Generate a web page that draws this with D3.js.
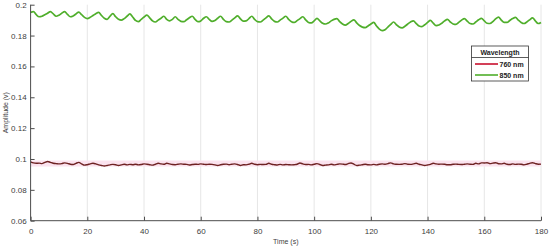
<!DOCTYPE html>
<html><head><meta charset="utf-8">
<script src="https://cdn.jsdelivr.net/npm/d3@7"></script>
<style>
html,body{margin:0;padding:0;background:#fff;}
svg{display:block;font-family:"Liberation Sans",Arial,sans-serif;}
</style></head>
<body><svg id="chart" width="550" height="248"></svg>
<script>
// ---- data (1 s sampling, 0..180 s) ----
const xTicks = [0,20,40,60,80,100,120,140,160,180];
const yTicks = [0.06,0.08,0.1,0.12,0.14,0.16,0.18,0.2];
const yTickLabels = ["0.06","0.08","0.1","0.12","0.14","0.16","0.18","0.2"];
const seriesNames = ["760 nm","850 nm"];
const legendTitle = "Wavelength";
const band760 = [0.0951, 0.0990];

const amp760 = [
0.0982,0.0975,0.0972,0.0973,0.0970,0.0978,0.0984,0.0978,0.0972,0.0970,0.0968,0.0970,0.0975,0.0972,0.0966,0.0964,0.0972,0.0978,0.0968,0.0960,0.0963,0.0968,0.0972,0.0968,0.0962,0.0958,0.0955,0.0958,0.0962,0.0965,0.0963,
0.0958,0.0962,0.0966,0.0962,0.0965,0.0963,0.0966,0.0962,0.0964,0.0968,0.0966,0.0963,0.0960,0.0966,0.0972,0.0968,0.0966,0.0972,0.0968,0.0964,0.0963,0.0966,0.0968,0.0966,0.0965,0.0961,0.0964,0.0966,0.0965,0.0968,
0.0966,0.0964,0.0966,0.0965,0.0962,0.0958,0.0963,0.0966,0.0967,0.0963,0.0966,0.0968,0.0964,0.0958,0.0963,0.0962,0.0966,0.0972,0.0966,0.0963,0.0965,0.0964,0.0965,0.0972,0.0966,0.0963,0.0961,0.0965,0.0962,0.0964,
0.0963,0.0962,0.0963,0.0966,0.0974,0.0968,0.0964,0.0965,0.0962,0.0966,0.0970,0.0964,0.0958,0.0960,0.0962,0.0966,0.0962,0.0965,0.0968,0.0967,0.0964,0.0970,0.0974,0.0966,0.0958,0.0960,0.0963,0.0966,0.0963,0.0962,
0.0965,0.0962,0.0966,0.0968,0.0966,0.0970,0.0975,0.0968,0.0966,0.0965,0.0966,0.0970,0.0966,0.0965,0.0968,0.0972,0.0966,0.0962,0.0958,0.0961,0.0965,0.0972,0.0968,0.0966,0.0967,0.0966,0.0963,0.0963,0.0966,0.0967,
0.0965,0.0964,0.0966,0.0968,0.0966,0.0965,0.0972,0.0968,0.0975,0.0974,0.0976,0.0970,0.0973,0.0976,0.0969,0.0968,0.0972,0.0966,0.0964,0.0968,0.0965,0.0967,0.0966,0.0962,0.0966,0.0972,0.0976,0.0970,0.0966,0.0967
];

const amp850 = [
0.1950,0.1955,0.1935,0.1922,0.1925,0.1935,0.1945,0.1955,0.1940,0.1925,0.1932,0.1945,0.1955,0.1937,0.1922,0.1927,0.1940,0.1952,0.1935,0.1918,
0.1910,0.1918,0.1930,0.1942,0.1950,0.1930,0.1912,0.1905,0.1925,0.1942,0.1922,0.1905,0.1900,0.1910,0.1925,0.1940,0.1920,0.1898,0.1890,0.1905,
0.1920,0.1932,0.1915,0.1895,0.1888,0.1900,0.1912,0.1925,0.1905,0.1895,0.1905,0.1922,0.1905,0.1892,0.1890,0.1902,0.1915,0.1925,0.1905,0.1890,
0.1895,0.1912,0.1922,0.1905,0.1892,0.1898,0.1912,0.1925,0.1905,0.1890,0.1888,0.1900,0.1915,0.1928,0.1908,0.1893,0.1895,0.1910,0.1925,0.1905,
0.1890,0.1888,0.1900,0.1915,0.1928,0.1908,0.1892,0.1888,0.1900,0.1913,0.1925,0.1905,0.1890,0.1885,0.1897,0.1910,0.1922,0.1902,0.1885,0.1882,
0.1895,0.1912,0.1895,0.1880,0.1875,0.1882,0.1895,0.1905,0.1910,0.1890,0.1875,0.1868,0.1878,0.1892,0.1902,0.1882,0.1865,0.1855,0.1852,0.1862,
0.1875,0.1885,0.1862,0.1842,0.1832,0.1838,0.1855,0.1872,0.1888,0.1870,0.1855,0.1850,0.1860,0.1875,0.1888,0.1895,0.1878,0.1862,0.1858,0.1870,
0.1885,0.1898,0.1880,0.1865,0.1868,0.1880,0.1895,0.1905,0.1888,0.1875,0.1872,0.1885,0.1900,0.1910,0.1893,0.1878,0.1875,0.1888,0.1902,0.1912,
0.1895,0.1880,0.1878,0.1890,0.1908,0.1920,0.1900,0.1885,0.1885,0.1898,0.1910,0.1918,0.1900,0.1885,0.1878,0.1888,0.1902,0.1915,0.1895,0.1878,
0.1885
];

// ---- layout ----
const svg = d3.select("#chart");
const x = d3.scaleLinear().domain([0,180]).range([30.6,541]);
const y = d3.scaleLinear().domain([0.06,0.2]).range([220.7,4.7]);
const axisColor = "#4d4d4d";
const textColor = "#404040";

// vertical grid
svg.append("g").selectAll("line").data(xTicks.slice(1)).join("line")
  .attr("x1",d=>x(d)).attr("x2",d=>x(d))
  .attr("y1",y(0.06)).attr("y2",y(0.2))
  .attr("stroke","#e6e6e6").attr("stroke-width",1);

// band for 760 nm
svg.append("rect")
  .attr("x",x(0)).attr("width",x(180)-x(0))
  .attr("y",y(band760[1])).attr("height",y(band760[0])-y(band760[1]))
  .attr("fill","#fbe3ef");

const line = d3.line().x((d,i)=>x(i)).y(d=>y(d)).curve(d3.curveMonotoneX);

svg.append("path").datum(amp760).attr("d",line)
  .attr("fill","none").attr("stroke","#6e2222").attr("stroke-width",1.4);
svg.append("path").datum(amp850).attr("d",line)
  .attr("fill","none").attr("stroke","#4fae2b").attr("stroke-width",1.7);

// axes
const xAxis = d3.axisBottom(x).tickValues(xTicks).tickSize(-4).tickPadding(8).tickFormat(d3.format("d"));
const gx = svg.append("g").attr("transform",`translate(0,${y(0.06)})`).call(xAxis);
const yAxis = d3.axisLeft(y).tickValues(yTicks).tickSize(-4).tickPadding(4).tickFormat((d,i)=>yTickLabels[i]);
const gy = svg.append("g").attr("transform",`translate(${x(0)},0)`).call(yAxis);
[gx,gy].forEach(g=>{
  g.select(".domain").attr("stroke",axisColor).attr("stroke-width",1);
  g.selectAll(".tick line").attr("stroke",axisColor);
  g.selectAll(".tick text").attr("fill",textColor).attr("font-size","8px")
    .attr("font-family","'Liberation Sans',Arial,sans-serif");
});
gy.selectAll(".tick text").attr("x",-4);
gx.select(".domain").attr("d",`M${x(0)},0H${x(180)}`);
gy.select(".domain").attr("d",`M0,${y(0.06)}V${y(0.2)}`);

// axis labels
svg.append("text").attr("x",(x(0)+x(180))/2).attr("y",244)
  .attr("text-anchor","middle").attr("font-size","7px").attr("fill",textColor).text("Time (s)");
svg.append("text").attr("transform",`translate(8,${(y(0.06)+y(0.2))/2}) rotate(-90)`)
  .attr("text-anchor","middle").attr("font-size","7px").attr("fill",textColor).text("Amplitude (v)");

// legend
const lg = svg.append("g");
const lx0 = 471.5, lx1 = 528.5, ly0 = 46, ly1 = 81;
lg.append("rect").attr("x",lx0).attr("y",ly0).attr("width",lx1-lx0).attr("height",ly1-ly0)
  .attr("fill","#fff").attr("stroke","#333").attr("stroke-width",0.8);
lg.append("line").attr("x1",lx0).attr("x2",lx1).attr("y1",57.5).attr("y2",57.5)
  .attr("stroke","#333").attr("stroke-width",0.8);
lg.append("text").attr("x",(lx0+lx1)/2).attr("y",54.5).attr("text-anchor","middle")
  .attr("font-size","7px").attr("font-weight","bold").attr("fill","#222").text(legendTitle);
const legColors = ["#c8102e","#4fae2b"];
seriesNames.forEach((s,i)=>{
  const yy = 64 + i*11;
  lg.append("line").attr("x1",475).attr("x2",498).attr("y1",yy).attr("y2",yy)
    .attr("stroke",legColors[i]).attr("stroke-width",1.6);
  lg.append("text").attr("x",499.5).attr("y",yy+2.5).attr("font-size","7px")
    .attr("font-weight","bold").attr("fill","#222").text(s);
});
</script></body></html>
